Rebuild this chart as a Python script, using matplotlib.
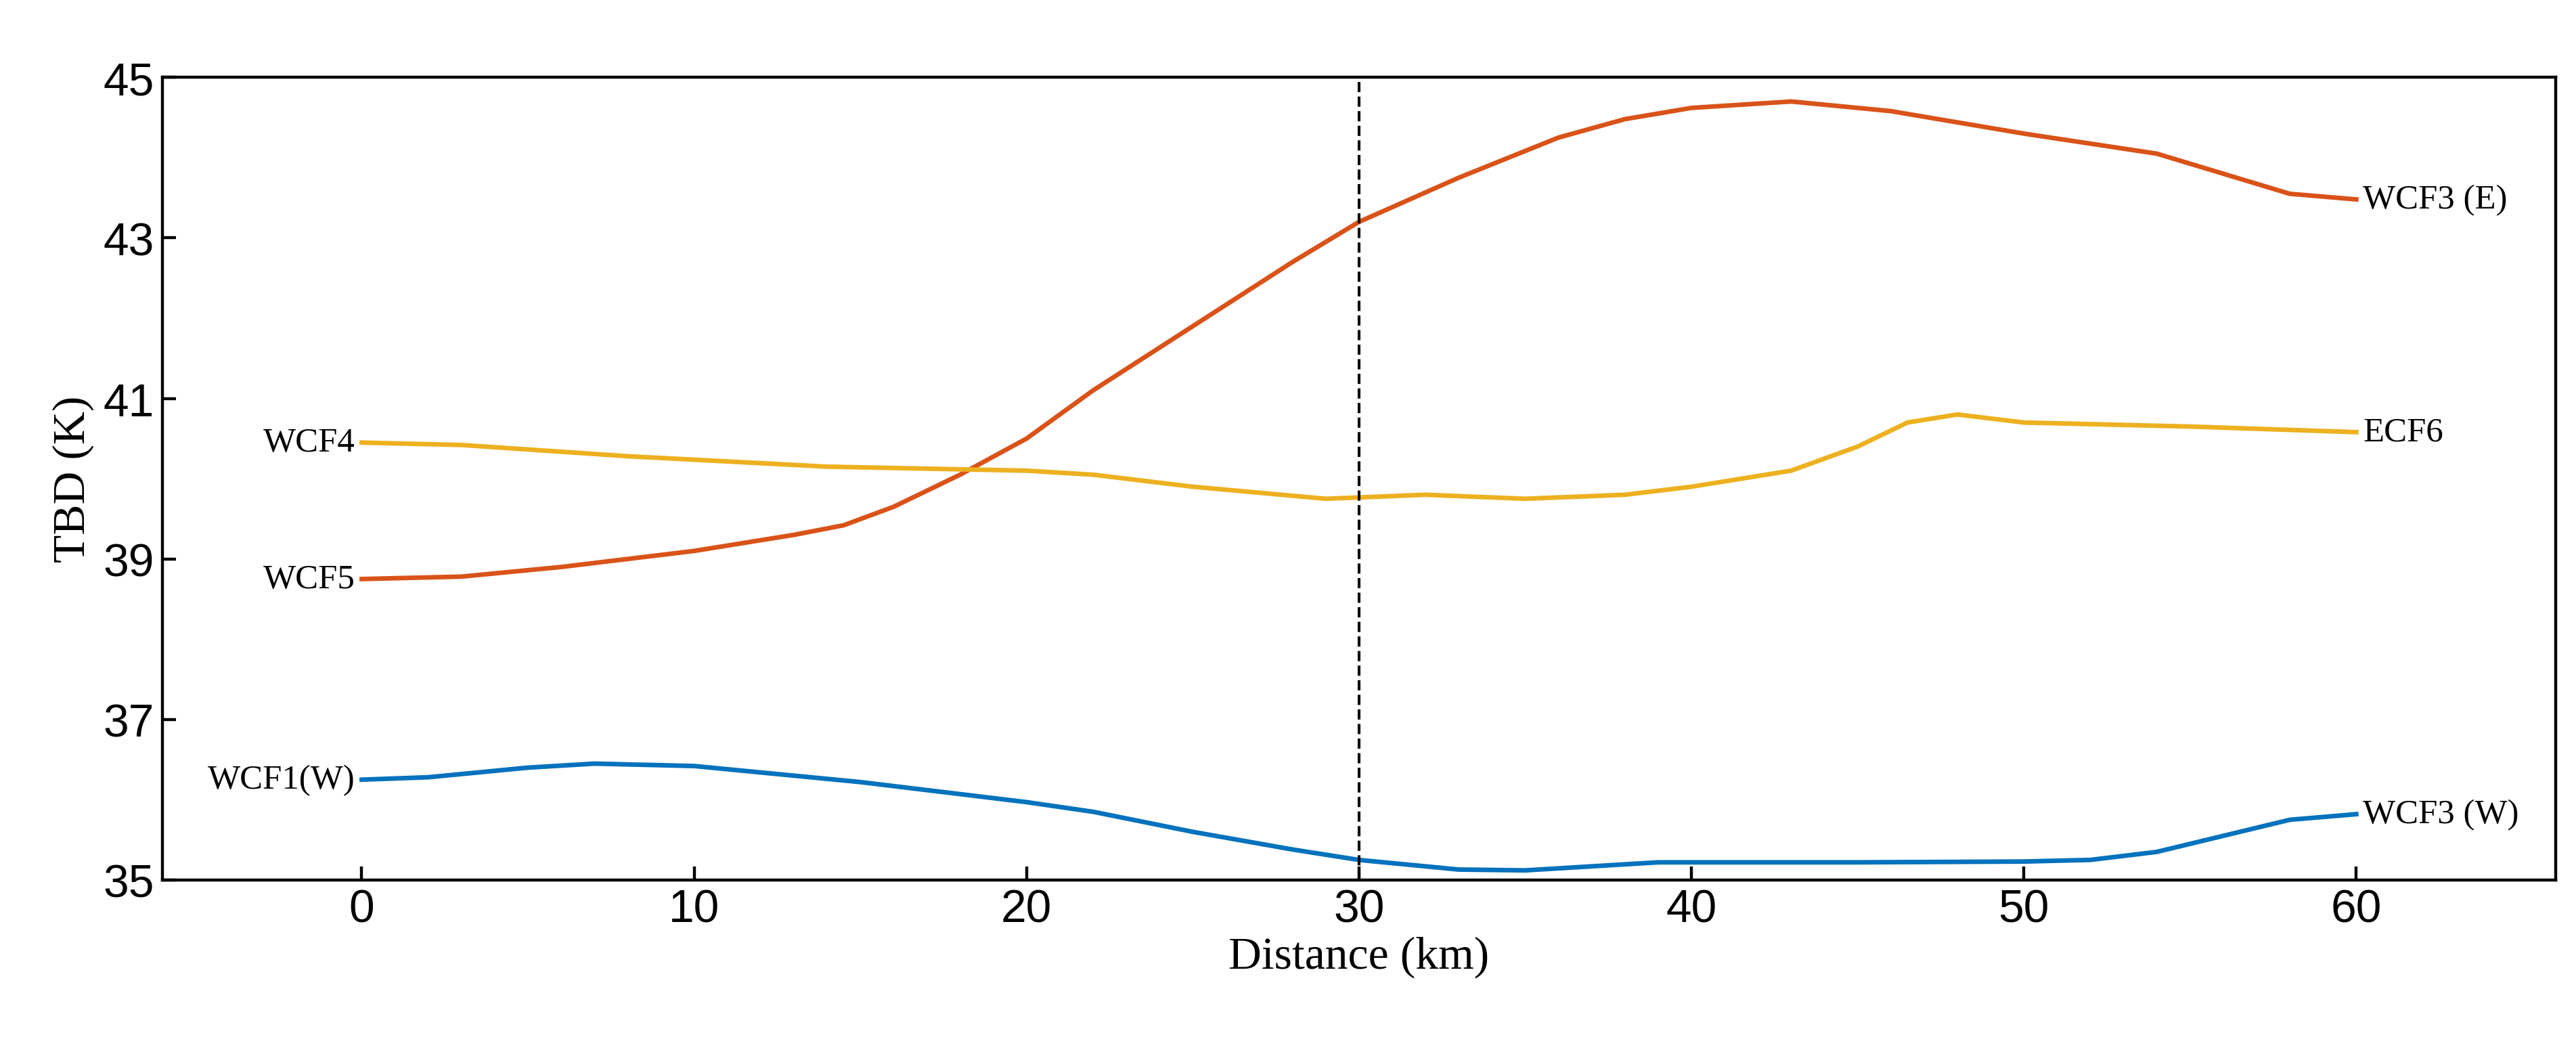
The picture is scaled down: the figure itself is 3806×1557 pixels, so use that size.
import matplotlib
matplotlib.use("Agg")
import matplotlib.pyplot as plt

x_or = [0, 3, 6, 10, 13, 14.5, 16, 18, 20, 22, 25, 28, 30, 33, 36, 38, 40, 43, 46, 50, 54, 56, 58, 60]
y_or = [38.75, 38.78, 38.9, 39.1, 39.3, 39.42, 39.65, 40.05, 40.5, 41.1, 41.9, 42.7, 43.2, 43.75, 44.25, 44.48, 44.62, 44.7, 44.58, 44.3, 44.05, 43.8, 43.55, 43.48]
x_ye = [0, 3, 8, 14, 20, 22, 25, 29, 32, 35, 38, 40, 43, 45, 46.5, 48, 50, 55, 60]
y_ye = [40.45, 40.42, 40.28, 40.15, 40.1, 40.05, 39.9, 39.75, 39.8, 39.75, 39.8, 39.9, 40.1, 40.4, 40.7, 40.8, 40.7, 40.65, 40.58]
x_bl = [0, 2, 5, 7, 10, 15, 20, 22, 25, 28, 30, 33, 35, 37, 39, 42, 45, 50, 52, 54, 56, 58, 60]
y_bl = [36.25, 36.28, 36.4, 36.45, 36.42, 36.22, 35.97, 35.85, 35.6, 35.38, 35.25, 35.13, 35.12, 35.17, 35.22, 35.22, 35.22, 35.23, 35.25, 35.35, 35.55, 35.75, 35.82]
labels_left = ["WCF5", "WCF4", "WCF1(W)"]
labels_right = ["WCF3 (E)", "ECF6", "WCF3 (W)"]
yticks = [35, 37, 39, 41, 43, 45]
xticks = [0, 10, 20, 30, 40, 50, 60]

fig = plt.figure(figsize=(15.6, 6.385), dpi=244)
ax = fig.add_axes([0.063, 0.165, 0.929, 0.761])
cols = ["#D95319", "#EDB120", "#0072BD"]
series = [(x_or, y_or), (x_ye, y_ye), (x_bl, y_bl)]
for (xs, ys), c, ll, rl in zip(series, cols, labels_left, labels_right):
    ax.plot(xs, ys, color=c, lw=2)
    ax.text(xs[0] - 0.2, ys[0], ll, ha="right", va="center", family="Liberation Serif", fontsize=15)
    ax.text(xs[-1] + 0.2, ys[-1], rl, ha="left", va="center", family="Liberation Serif", fontsize=15)
ax.axvline(30, color="black", ls="--", lw=1.2)
ax.set_xlim(-6, 66)
ax.set_ylim(35, 45)
ax.set_xticks(xticks)
ax.set_yticks(yticks)
for s in ax.spines.values():
    s.set_linewidth(1.3)
ax.tick_params(direction="in", labelsize=20, length=6, width=1.3, top=False, right=False)
for t in ax.get_xticklabels() + ax.get_yticklabels():
    t.set_family("Liberation Sans")
ax.set_xlabel("Distance (km)", family="Liberation Serif", fontsize=20, labelpad=2)
ax.set_ylabel("TBD (K)", family="Liberation Serif", fontsize=20, labelpad=4)
fig.savefig("out.png", dpi=244)
